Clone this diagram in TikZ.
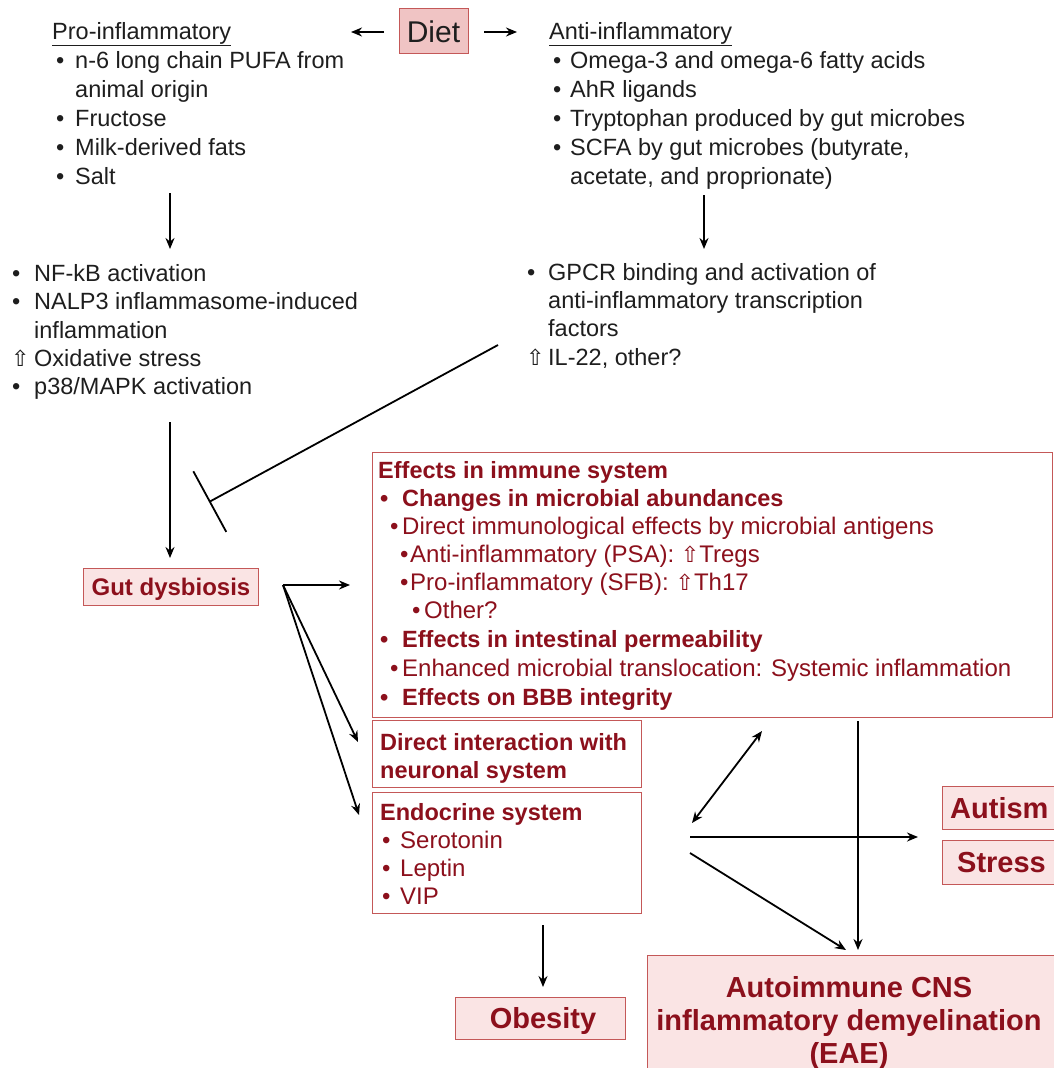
\documentclass[tikz,border=0pt]{standalone}
\usepackage{fontspec}
\setmainfont{Liberation Sans}
\newfontfamily\dejavu{DejaVu Sans}
\usetikzlibrary{arrows.meta}
\definecolor{txt}{RGB}{30,30,30}
\definecolor{dred}{RGB}{140,16,28}
\definecolor{bred}{RGB}{196,88,88}
\definecolor{pinkA}{RGB}{240,196,196}
\definecolor{pinkB}{RGB}{250,228,228}
\newcommand{\upar}{{\dejavu\fontsize{22}{22}\selectfont ⇧}}
\newcommand{\bul}[1]{\makebox[#1][l]{•}}
\begin{document}
\begin{tikzpicture}[x=1pt,y=-1pt,
  bt/.style={anchor=base west,inner sep=0pt,text=txt,font=\fontsize{23.5}{28}\selectfont},
  rt/.style={anchor=base west,inner sep=0pt,text=dred,font=\fontsize{24}{28}\selectfont},
  rb/.style={anchor=base west,inner sep=0pt,text=dred,font=\fontsize{23.5}{28}\selectfont\bfseries},
  bigt/.style={inner sep=0pt,text=dred,font=\fontsize{29}{33}\selectfont\bfseries},
  frame/.style={draw=bred,line width=1.2pt,anchor=north west,inner sep=0pt,fill=white},
  pbox/.style={draw=bred,line width=1.3pt,anchor=north west,inner sep=0pt,fill=pinkB},
  arr/.style={-{Stealth[length=11pt,width=9pt]},line width=1.8pt,draw=black},
  darr/.style={{Stealth[length=11pt,width=9pt]}-{Stealth[length=11pt,width=9pt]},line width=1.8pt,draw=black},
  inh/.style={-{Bar[width=69pt,line width=1.8pt]},line width=1.8pt,draw=black}
]
\useasboundingbox (0,0) rectangle (1053,1068);

% ---- Diet ----
\node[pbox,fill=pinkA,minimum width=69pt,minimum height=45pt] (diet) at (399,8) {};
\node[anchor=base,inner sep=0pt,text=txt,font=\fontsize{30}{30}\selectfont] (diettxt) at (433.5,42) {Diet};
\coordinate (dlA) at (384,32); \coordinate (dlB) at (351,32);
\coordinate (drA) at (484,32); \coordinate (drB) at (517,32);
\draw[arr] (dlA) -- (dlB);
\draw[arr] (drA) -- (drB);

% ---- Pro-inflammatory ----
\node[bt] (proh) at (52,39) {\underline{Pro-inflammatory}};
\node[bt] (p1) at (56,68) {\bul{19pt}n-6 long chain PUFA from};
\node[bt] (p2) at (75,97) {animal origin};
\node[bt] (p3) at (56,126) {\bul{19pt}Fructose};
\node[bt] (p4) at (56,155) {\bul{19pt}Milk-derived fats};
\node[bt] (p5) at (56,184) {\bul{19pt}Salt};

% ---- Anti-inflammatory ----
\node[bt] (antih) at (549,39) {\underline{Anti-inflammatory}};
\node[bt] (a1) at (553,68) {\bul{17pt}Omega-3 and omega-6 fatty acids};
\node[bt] (a2) at (553,97) {\bul{17pt}AhR ligands};
\node[bt] (a3) at (553,126) {\bul{17pt}Tryptophan produced by gut microbes};
\node[bt] (a4) at (553,155) {\bul{17pt}SCFA by gut microbes (butyrate,};
\node[bt] (a5) at (570,184) {acetate, and proprionate)};

\coordinate (ldA) at (170,193); \coordinate (ldB) at (170,249);
\coordinate (rdA) at (704,195); \coordinate (rdB) at (704,249);
\draw[arr] (ldA) -- (ldB);
\draw[arr] (rdA) -- (rdB);

% ---- middle left ----
\node[bt] (m1) at (12,281) {\bul{22pt}NF-kB activation};
\node[bt] (m2) at (12,309) {\bul{22pt}NALP3 inflammasome-induced};
\node[bt] (m3) at (34,338) {inflammation};
\node[bt] (m4) at (11,366) {\makebox[23pt][l]{\upar}Oxidative stress};
\node[bt] (m5) at (12,394) {\bul{22pt}p38/MAPK activation};

% ---- middle right ----
\node[bt] (r1) at (527,280) {\bul{21pt}GPCR binding and activation of};
\node[bt] (r2) at (548,308) {anti-inflammatory transcription};
\node[bt] (r3) at (548,336) {factors};
\node[bt] (r4) at (526,365) {\makebox[22pt][l]{\upar}IL-22, other?};

% ---- Gut dysbiosis ----
\node[pbox,minimum width=175pt,minimum height=37pt] (gut) at (83,568) {};
\node[rb,anchor=base,font=\fontsize{24}{24}\selectfont\bfseries] (guttxt) at (171,595) {Gut dysbiosis};

\coordinate (gdA) at (170,422); \coordinate (gdB) at (170,558);
\draw[arr] (gdA) -- (gdB);
\coordinate (inhA) at (498,345); \coordinate (inhB) at (209,502);
\draw[inh] (inhA) -- (inhB);

% ---- Effects in immune system ----
\node[frame,minimum width=680pt,minimum height=265pt] (eff) at (372,452) {};
\node[rb] (e0) at (378,478) {Effects in immune system};
\node[rb] (e1) at (380,506) {\bul{22pt}Changes in microbial abundances};
\node[rt] (e2) at (390,534) {\bul{12pt}Direct immunological effects by microbial antigens};
\node[rt] (e3) at (400,562) {\bul{10pt}Anti-inflammatory (PSA): \upar Tregs};
\node[rt] (e4) at (400,590) {\bul{10pt}Pro-inflammatory (SFB): \upar Th17};
\node[rt] (e5) at (412,618) {\bul{12pt}Other?};
\node[rb] (e6) at (380,647) {\bul{22pt}Effects in intestinal permeability};
\node[rt] (e7) at (390,676) {\bul{12pt}Enhanced microbial translocation: Systemic inflammation};
\node[rb] (e8) at (380,705) {\bul{22pt}Effects on BBB integrity};

% ---- Direct interaction ----
\node[frame,minimum width=269pt,minimum height=67pt] (dir) at (372,720) {};
\node[rb] (d1) at (380,750) {Direct interaction with};
\node[rb] (d2) at (380,778) {neuronal system};

% ---- Endocrine ----
\node[frame,minimum width=269pt,minimum height=121pt] (endo) at (372,792) {};
\node[rb] (n0) at (380,820) {Endocrine system};
\node[rt] (n1) at (382,848) {\bul{18pt}Serotonin};
\node[rt] (n2) at (382,876) {\bul{18pt}Leptin};
\node[rt] (n3) at (382,904) {\bul{18pt}VIP};

% ---- gut arrows ----
\coordinate (gs) at (283,585);
\coordinate (gE) at (350,585);
\coordinate (gD) at (358,742);
\coordinate (gN) at (359,815);
\draw[arr] (gs) -- (gE);
\draw[arr] (gs) -- (gD);
\draw[arr] (gs) -- (gN);

% ---- outcomes ----
\node[pbox,minimum width=115pt,minimum height=43pt] (aut) at (942,786) {};
\node[bigt,anchor=base west] (auttxt) at (950,818) {Autism};
\node[pbox,minimum width=115pt,minimum height=44pt] (str) at (942,840) {};
\node[bigt,anchor=base west] (strtxt) at (957,872) {Stress};
\node[pbox,minimum width=170pt,minimum height=42pt] (obe) at (455,997) {};
\node[bigt,anchor=base] (obetxt) at (543,1028) {Obesity};
\node[pbox,minimum width=410pt,minimum height=120pt] (cns) at (647,955) {};
\node[bigt,anchor=base] (c1) at (849,997) {Autoimmune CNS};
\node[bigt,anchor=base] (c2) at (849,1030) {inflammatory demyelination};
\node[bigt,anchor=base] (c3) at (849,1063) {(EAE)};

\coordinate (dbA) at (692,823); \coordinate (dbB) at (762,731);
\draw[darr] (dbA) -- (dbB);
\coordinate (hA) at (690,837); \coordinate (hB) at (918,837);
\draw[arr] (hA) -- (hB);
\coordinate (dgA) at (690,853); \coordinate (dgB) at (846,950);
\draw[arr] (dgA) -- (dgB);
\coordinate (vA) at (858,721); \coordinate (vB) at (858,950);
\draw[arr] (vA) -- (vB);
\coordinate (oA) at (543,925); \coordinate (oB) at (543,987);
\draw[arr] (oA) -- (oB);
\end{tikzpicture}
\end{document}
